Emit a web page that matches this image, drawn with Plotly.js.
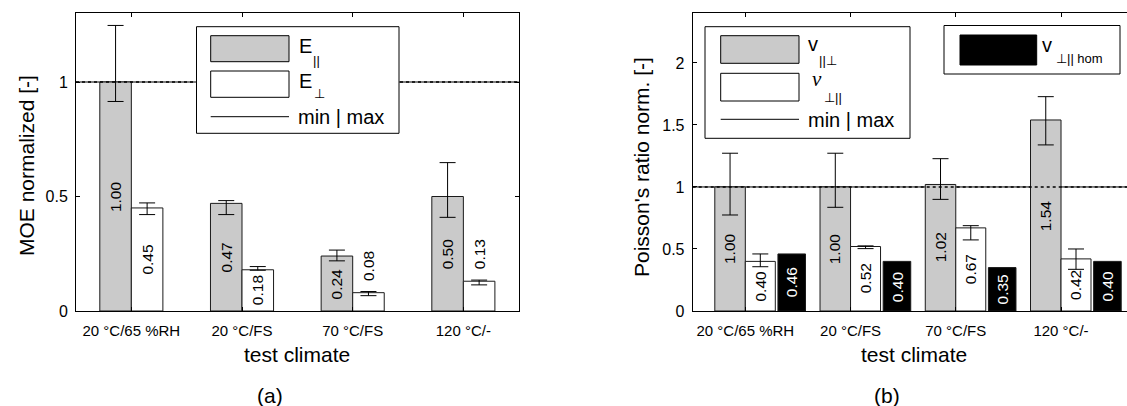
<!DOCTYPE html>
<html><head><meta charset="utf-8">
<script src="https://cdn.plot.ly/plotly-3.0.1.min.js"></script>
<style>html,body{margin:0;padding:0;background:#fff}#chart{width:1127px;height:406px}</style>
</head><body><div id="chart"></div>
<script>
// ---------- data ----------
const categories = ['20 °C/65 %RH', '20 °C/FS', '70 °C/FS', '120 °C/-'];

// (a) MOE normalized
const ePar      = [1.00, 0.47, 0.24, 0.50];
const eParMin   = [0.915, 0.421, 0.219, 0.409];
const eParMax   = [1.247, 0.482, 0.266, 0.648];
const ePerp     = [0.45, 0.18, 0.08, 0.13];
const ePerpMin  = [0.421, 0.178, 0.067, 0.114];
const ePerpMax  = [0.472, 0.194, 0.085, 0.135];

// (b) Poisson's ratio normalized
const nuParPerp     = [1.00, 1.00, 1.02, 1.54];
const nuParPerpMin  = [0.774, 0.836, 0.900, 1.339];
const nuParPerpMax  = [1.272, 1.272, 1.228, 1.728];
const nuPerpPar     = [0.40, 0.52, 0.67, 0.42];
const nuPerpParMin  = [0.357, 0.503, 0.573, 0.336];
const nuPerpParMax  = [0.460, 0.525, 0.688, 0.500];
const nuHom         = [0.46, 0.40, 0.35, 0.40];

const yTicksA = [0, 0.5, 1];
const yTicksB = [0, 0.5, 1, 1.5, 2];
const refLevel = 1;

// ---------- layout helpers ----------
const W = 1127, H = 406;
const fx = x => x / W;
const fy = y => 1 - y / H;
const FONT = 'Liberation Sans, Arial, Helvetica, sans-serif';
const GRAY = '#cacaca';
const idx = categories.map((c, i) => i + 1);

const domA = [fx(76), fx(518.7)];
const domB = [fx(692.7), 1];
const domY = [fy(311), fy(13.3)];
const rangeA = [0, 1.3], rangeB = [0, 2.4];
const plotHpx = (domY[1] - domY[0]) * H;

function barTrace(xa, ya, vals, lo, hi, off, w, color) {
  const t = {
    type: 'bar', xaxis: xa, yaxis: ya,
    x: idx.map(i => i + off), y: vals, width: w,
    marker: {color: color, line: {color: '#1a1a1a', width: 1}},
    hoverinfo: 'skip', showlegend: false
  };
  if (lo) {
    t.error_y = {type: 'data', symmetric: false,
      array: hi.map((h, i) => h - vals[i]),
      arrayminus: lo.map((l, i) => vals[i] - l),
      color: '#000', thickness: 1, width: 8};
  }
  return t;
}

const offA = {par: -0.1425, perp: 0.1425, w: 0.285};
const offB = {par: -0.145, perp: 0.1425, hom: 0.441, wPar: 0.29, wPerp: 0.285, wHom: 0.262};

const traces = [
  barTrace('x', 'y', ePar, eParMin, eParMax, offA.par, offA.w, GRAY),
  barTrace('x', 'y', ePerp, ePerpMin, ePerpMax, offA.perp, offA.w, '#ffffff'),
  barTrace('x2', 'y2', nuParPerp, nuParPerpMin, nuParPerpMax, offB.par, offB.wPar, GRAY),
  barTrace('x2', 'y2', nuPerpPar, nuPerpParMin, nuPerpParMax, offB.perp, offB.wPerp, '#ffffff'),
  barTrace('x2', 'y2', nuHom, null, null, offB.hom, offB.wHom, '#000000')
];

// ---------- value labels ----------
const annotations = [];
function addLabels(xa, ya, vals, hi, off, range, color) {
  const pxPerUnit = plotHpx / (range[1] - range[0]);
  vals.forEach((v, i) => {
    const inside = v * pxPerUnit >= 40;
    annotations.push({
      xref: xa, yref: ya, x: idx[i] + off,
      y: inside ? v / 2 : hi[i], yshift: inside ? 0 : 26,
      text: v.toFixed(2), textangle: -90, showarrow: false,
      xanchor: 'center', yanchor: 'middle',
      font: {family: FONT, size: 15.5, color: color}
    });
  });
}
addLabels('x', 'y', ePar, eParMax, offA.par, rangeA, '#000');
addLabels('x', 'y', ePerp, ePerpMax, offA.perp, rangeA, '#000');
addLabels('x2', 'y2', nuParPerp, nuParPerpMax, offB.par, rangeB, '#000');
addLabels('x2', 'y2', nuPerpPar, nuPerpParMax, offB.perp, rangeB, '#000');
addLabels('x2', 'y2', nuHom, nuHom, offB.hom, rangeB, '#fff');

function txt(x, y, text, size, opts) {
  return Object.assign({xref: 'paper', yref: 'paper', x: fx(x), y: fy(y), text: text,
    showarrow: false, xanchor: 'left', yanchor: 'middle',
    font: {family: FONT, size: size, color: '#000'}}, opts || {});
}

// axis titles & panel captions
annotations.push(txt(26, 166, 'MOE normalized [-]', 21, {xanchor: 'center', textangle: -90}));
annotations.push(txt(641, 167, "Poisson's ratio norm. [-]", 21, {xanchor: 'center', textangle: -90}));
annotations.push(txt(297, 354, 'test climate', 21, {xanchor: 'center'}));
annotations.push(txt(913.7, 354, 'test climate', 21, {xanchor: 'center'}));
annotations.push(txt(270, 395, '(a)', 21, {xanchor: 'center'}));
annotations.push(txt(887, 395, '(b)', 21, {xanchor: 'center'}));

// legend texts
annotations.push(txt(297, 46, 'E', 20));
annotations.push(txt(311, 60.5, '||', 13));
annotations.push(txt(297, 80.5, 'E', 20));
annotations.push(txt(311.5, 93.5, '⊥', 13));
annotations.push(txt(296, 117, 'min | max', 20));

annotations.push(txt(806, 44, 'v', 20));
annotations.push(txt(817, 61, '||⊥', 13));
annotations.push(txt(810, 79, '<i>ν</i>', 20, {font: {family: 'Liberation Serif, DejaVu Serif, serif', size: 21, color: '#000'}}));
annotations.push(txt(822, 97, '⊥||', 13));
annotations.push(txt(806, 119.5, 'min | max', 20));

annotations.push(txt(1040, 45, 'v', 20));
annotations.push(txt(1054, 58.5, '⊥|| hom', 13));

// ---------- shapes ----------
function rect(x0, y0, x1, y1, fill) {
  return {type: 'rect', xref: 'paper', yref: 'paper', x0: fx(x0), x1: fx(x1), y0: fy(y1), y1: fy(y0),
    fillcolor: fill, line: {color: '#000', width: 1}, layer: 'above'};
}
function hline(x0, x1, y) {
  return {type: 'line', xref: 'paper', yref: 'paper', x0: fx(x0), x1: fx(x1), y0: fy(y), y1: fy(y),
    line: {color: '#000', width: 1}, layer: 'above'};
}
const shapes = [];
[['x', 'y'], ['x2', 'y2']].forEach(([xa, ya]) => {
  shapes.push({type: 'line', xref: xa + ' domain', yref: ya, x0: 0, x1: 1, y0: refLevel, y1: refLevel,
    line: {color: '#000', width: 1}, layer: 'below'});
  shapes.push({type: 'line', xref: xa + ' domain', yref: ya, x0: 0, x1: 1, y0: refLevel, y1: refLevel,
    line: {color: '#000', width: 1.5, dash: 'dot'}, layer: 'above'});
});
// legend (a)
shapes.push(rect(196.5, 26.7, 399, 133.3, '#fff'));
shapes.push(rect(210.7, 35.7, 289, 61.7, GRAY));
shapes.push(rect(210.7, 71, 289, 97.3, '#fff'));
shapes.push(hline(210.7, 289, 116.7));
// legend (b) left
shapes.push(rect(705, 26.7, 910, 138.3, '#fff'));
shapes.push(rect(720.7, 35.7, 799, 63.3, GRAY));
shapes.push(rect(720.7, 73.3, 799, 101, '#fff'));
shapes.push(hline(720.7, 799, 119.3));
// legend (b) right
shapes.push(rect(944, 25.5, 1120, 74, '#fff'));
shapes.push(rect(960, 35, 1036.7, 65, '#000'));

// ---------- axes ----------
const xBase = {
  tickvals: idx, ticktext: categories, ticks: 'inside', ticklen: 4, tickcolor: '#000', tickwidth: 1,
  showline: true, linecolor: '#000', linewidth: 1, mirror: 'ticks', showgrid: false, zeroline: false,
  tickfont: {family: FONT, size: 15, color: '#000'}, ticklabelstandoff: 6, fixedrange: true
};
const yBase = {
  ticks: 'inside', ticklen: 4, tickcolor: '#000', tickwidth: 1,
  showline: true, linecolor: '#000', linewidth: 1, showgrid: false, zeroline: false,
  tickfont: {family: FONT, size: 16, color: '#000'}, ticklabelstandoff: 4, fixedrange: true
};

const layout = {
  width: W, height: H, margin: {l: 0, r: 0, t: 0, b: 0},
  paper_bgcolor: '#fff', plot_bgcolor: '#fff',
  font: {family: FONT, color: '#000'},
  barmode: 'overlay', showlegend: false,
  xaxis: Object.assign({}, xBase, {domain: domA, range: [0.5, 4.5], anchor: 'y'}),
  yaxis: Object.assign({}, yBase, {domain: domY, range: rangeA, tickvals: yTicksA, anchor: 'x', mirror: 'ticks'}),
  xaxis2: Object.assign({}, xBase, {domain: domB, range: [0.5, 4.627], anchor: 'y2'}),
  yaxis2: Object.assign({}, yBase, {domain: domY, range: rangeB, tickvals: yTicksB, anchor: 'x2', mirror: false}),
  shapes: shapes, annotations: annotations
};

Plotly.newPlot('chart', traces, layout, {staticPlot: true, displayModeBar: false});
</script>
</body></html>
